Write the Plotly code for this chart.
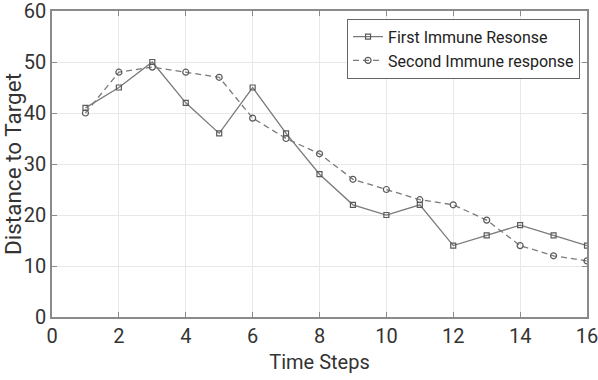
import plotly.graph_objects as go

time_steps = list(range(1, 17))
first_response = [41, 45, 50, 42, 36, 45, 36, 28, 22, 20, 22, 14, 16, 18, 16, 14]
second_response = [40, 48, 49, 48, 47, 39, 35, 32, 27, 25, 23, 22, 19, 14, 12, 11]
x_ticks = list(range(0, 17, 2))
y_ticks = list(range(0, 61, 10))

FONT = "Roboto, Liberation Sans, Arial, sans-serif"
LINE = "#7a7a7a"

fig = go.Figure()
fig.add_trace(go.Scatter(
    x=time_steps, y=first_response, mode="lines+markers",
    name="First Immune Resonse",
    line=dict(color=LINE, width=1.3, dash="solid"),
    marker=dict(symbol="square-open", size=5, color="#5a5a5a", line=dict(width=1.2)),
))
fig.add_trace(go.Scatter(
    x=time_steps, y=second_response, mode="lines+markers",
    name="Second Immune response",
    line=dict(color=LINE, width=1.3, dash="6px,4px"),
    marker=dict(symbol="circle-open", size=6, color="#5a5a5a", line=dict(width=1.2)),
))

axis_common = dict(
    showline=True, linecolor="#8a8a8a", linewidth=1.5, mirror="ticks",
    ticks="inside", ticklen=5, tickcolor="#8a8a8a",
    showgrid=True, gridcolor="#e8e8e8", gridwidth=1,
    zeroline=False, automargin=False, ticklabeloverflow="allow",
    tickfont=dict(family=FONT, size=20, color="#333333"),
)

fig.update_layout(
    width=598, height=380,
    margin=dict(l=52, r=11, t=11, b=63),
    paper_bgcolor="white", plot_bgcolor="white",
    font=dict(family=FONT, color="#333333"),
    showlegend=True,
    legend=dict(
        x=0.987, y=0.975, xanchor="right", yanchor="top",
        bgcolor="white", bordercolor="#666666", borderwidth=1,
        font=dict(family=FONT, size=16, color="#222222"),
        itemwidth=30, tracegroupgap=0,
    ),
    xaxis=dict(
        **axis_common, range=[0, 16], tickvals=x_ticks,
        title=dict(text="Time Steps", font=dict(family=FONT, size=20, color="#333333"), standoff=8),
    ),
    yaxis=dict(
        **axis_common, range=[0, 60], tickvals=y_ticks,
        title=dict(text="Distance to Target", font=dict(family=FONT, size=22.5, color="#333333"), standoff=0),
    ),
)

fig.write_html("out.html")
